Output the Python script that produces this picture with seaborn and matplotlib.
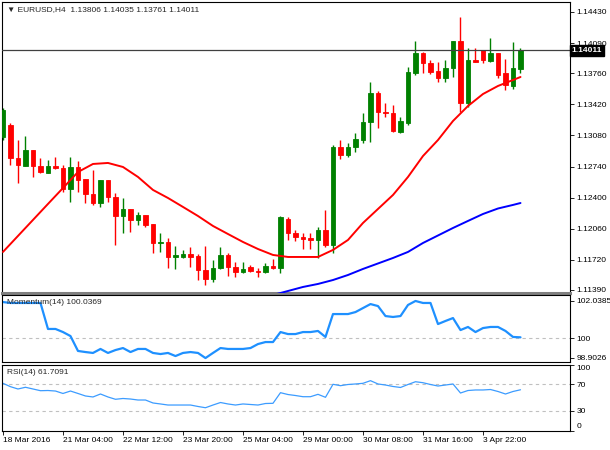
import matplotlib
matplotlib.use("Agg")
import numpy as np
import pandas as pd
import seaborn as sns
import matplotlib.pyplot as plt

# EURUSD H4 candles
opens = [1.13063, 1.13194, 1.12834, 1.12746, 1.12921, 1.12746, 1.12670, 1.12746, 1.12724, 1.12495,
         1.12735, 1.12604, 1.12440, 1.12341, 1.12593, 1.12407, 1.12199, 1.12276, 1.12156, 1.12210,
         1.12112, 1.11904, 1.11915, 1.11751, 1.11751, 1.11784, 1.11762, 1.11609, 1.11510, 1.11631,
         1.11773, 1.11642, 1.11587, 1.11642, 1.11598, 1.11587, 1.11653, 1.11631, 1.12167, 1.12013,
         1.11970, 1.11959, 1.11937, 1.12046, 1.11882, 1.12954, 1.12866, 1.12954, 1.13030, 1.13227,
         1.13544, 1.13337, 1.13326, 1.13118, 1.13216, 1.13763, 1.13982, 1.13872, 1.13785, 1.13708,
         1.13818, 1.14113, 1.13435, 1.13905, 1.14015, 1.13894, 1.13982, 1.13763, 1.13621, 1.13806]
highs = [1.13380, 1.13216, 1.13030, 1.13074, 1.12921, 1.12834, 1.12812, 1.12844, 1.12757, 1.12844,
         1.12801, 1.12604, 1.12702, 1.12593, 1.12593, 1.12451, 1.12396, 1.12276, 1.12243, 1.12210,
         1.12112, 1.12013, 1.11959, 1.11871, 1.11828, 1.11860, 1.11784, 1.11871, 1.11718, 1.11860,
         1.11795, 1.11696, 1.11696, 1.11663, 1.11631, 1.11685, 1.11729, 1.12199, 1.12188, 1.12046,
         1.12013, 1.12013, 1.12079, 1.12265, 1.12976, 1.13030, 1.12998, 1.13107, 1.13326, 1.13665,
         1.13566, 1.13435, 1.13413, 1.13282, 1.13829, 1.14113, 1.13993, 1.13905, 1.13883, 1.13905,
         1.14113, 1.14375, 1.14036, 1.14036, 1.14015, 1.14146, 1.13982, 1.13916, 1.14102, 1.14035]
lows = [1.13030, 1.12757, 1.12560, 1.12746, 1.12626, 1.12670, 1.12670, 1.12713, 1.12462, 1.12352,
        1.12462, 1.12341, 1.12320, 1.12298, 1.12352, 1.11882, 1.12013, 1.12024, 1.12101, 1.12079,
        1.11795, 1.11806, 1.11631, 1.11620, 1.11740, 1.11642, 1.11499, 1.11445, 1.11478, 1.11620,
        1.11543, 1.11532, 1.11576, 1.11587, 1.11532, 1.11576, 1.11620, 1.11576, 1.11937, 1.11926,
        1.11838, 1.11838, 1.11740, 1.11860, 1.11795, 1.12823, 1.12844, 1.12899, 1.12998, 1.13008,
        1.13162, 1.13282, 1.13118, 1.13107, 1.13194, 1.13741, 1.13763, 1.13752, 1.13665, 1.13665,
        1.13719, 1.13337, 1.13391, 1.13883, 1.13872, 1.13883, 1.13708, 1.13577, 1.13588, 1.13761]
closes = [1.13358, 1.12834, 1.12757, 1.12921, 1.12746, 1.12680, 1.12746, 1.12724, 1.12495, 1.12735,
          1.12593, 1.12440, 1.12341, 1.12593, 1.12407, 1.12199, 1.12276, 1.12156, 1.12210, 1.12101,
          1.11904, 1.11915, 1.11751, 1.11773, 1.11784, 1.11751, 1.11609, 1.11510, 1.11631, 1.11773,
          1.11642, 1.11587, 1.11620, 1.11598, 1.11587, 1.11653, 1.11631, 1.12188, 1.12013, 1.11970,
          1.11948, 1.11937, 1.12046, 1.11882, 1.12954, 1.12866, 1.12954, 1.13041, 1.13227, 1.13544,
          1.13337, 1.13326, 1.13129, 1.13238, 1.13774, 1.13982, 1.13872, 1.13774, 1.13708, 1.13818,
          1.14113, 1.13435, 1.13905, 1.13883, 1.13905, 1.13982, 1.13741, 1.13632, 1.13818, 1.14011]

# moving averages (read at every 2nd bar)
ma_fast_idx = list(range(0, 70, 2)) + [69]
ma_fast = [1.11806, 1.11981, 1.12156, 1.12331, 1.12505, 1.12680, 1.12768, 1.12779, 1.12735, 1.12626,
           1.12484, 1.12396, 1.12298, 1.12199, 1.12090, 1.12002, 1.11915, 1.11838, 1.11773, 1.11751,
           1.11751, 1.11751, 1.11828, 1.11937, 1.12123, 1.12276, 1.12429, 1.12626, 1.12855, 1.13030,
           1.13238, 1.13402, 1.13533, 1.13621, 1.13686, 1.13719]
ma_slow_idx = list(range(34, 70, 2)) + [69]
ma_slow = [1.11303, 1.11335, 1.11379, 1.11423, 1.11456, 1.11499, 1.11554, 1.11620, 1.11680, 1.11740,
           1.11806, 1.11904, 1.11986, 1.12068, 1.12145, 1.12221, 1.12281, 1.12320, 1.12341]

momentum = [101.98, 101.93, 101.93, 101.93, 101.93, 101.93, 100.50, 100.50, 100.33, 100.11,
            99.29, 99.23, 99.18, 99.40, 99.18, 99.34, 99.45, 99.23, 99.40, 99.40,
            99.18, 99.12, 99.18, 99.01, 99.18, 99.23, 99.18, 98.90, 99.18, 99.45,
            99.40, 99.40, 99.40, 99.45, 99.67, 99.78, 99.78, 100.33, 100.22, 100.22,
            100.33, 100.33, 100.39, 100.06, 101.32, 101.32, 101.32, 101.43, 101.65, 101.87,
            101.76, 101.21, 101.16, 101.21, 101.82, 102.04, 101.93, 101.93, 100.77, 100.94,
            101.10, 100.44, 100.61, 100.33, 100.55, 100.61, 100.61, 100.39, 100.06, 100.04]
rsi = [71.5, 66.4, 62.9, 65.5, 62.9, 60.3, 60.6, 59.8, 56.1, 59.8,
       56.1, 52.3, 50.8, 55.3, 50.8, 47.3, 48.5, 47.7, 46.2, 46.2,
       41.7, 40.2, 38.6, 38.6, 38.6, 38.6, 36.4, 34.5, 38.6, 42.4,
       40.2, 38.6, 40.2, 39.4, 38.6, 40.9, 41.2, 57.3, 54.5, 53.0,
       51.2, 51.2, 54.8, 50.3, 70.0, 67.9, 69.7, 70.5, 71.5, 75.5,
       70.5, 68.9, 66.7, 65.2, 69.7, 73.9, 72.4, 69.7, 67.4, 68.9,
       70.5, 56.8, 60.6, 61.4, 61.4, 62.1, 59.1, 55.3, 59.1, 61.7]

price_ticks = [1.14430, 1.14090, 1.13760, 1.13420, 1.13080, 1.12740, 1.12400, 1.12060, 1.11720, 1.11390]
date_idx = [0, 8, 16, 24, 32, 40, 48, 56, 64]
date_labels = ["18 Mar 2016", "21 Mar 04:00", "22 Mar 12:00", "23 Mar 20:00", "25 Mar 04:00",
               "29 Mar 00:00", "30 Mar 08:00", "31 Mar 16:00", "3 Apr 22:00"]
last_price = 1.14011

df = pd.DataFrame({"o": opens, "h": highs, "l": lows, "c": closes})
df["i"] = np.arange(len(df))
df["up"] = df["c"] >= df["o"]

sns.set_theme(style="white")
plt.rcParams["font.family"] = ["Liberation Sans", "DejaVu Sans"]
FS = 6.0
UP, DOWN = "#008000", "#ff0000"

W, H = 610, 450
fig = plt.figure(figsize=(W / 100, H / 100), dpi=100)


def box(x0, y0, x1, y1):
    return [x0 / W, 1 - y1 / H, (x1 - x0) / W, (y1 - y0) / H]


ax = fig.add_axes(box(2, 2, 570, 293))
axm = fig.add_axes(box(2, 295, 570, 362))
axr = fig.add_axes(box(2, 364.5, 570, 430.5))

for a in (ax, axm, axr):
    a.set_xlim(-0.13, 75.6)
    for s in a.spines.values():
        s.set_color("black")
        s.set_linewidth(0.8)
    a.yaxis.tick_right()
    a.tick_params(axis="y", direction="out", length=3, width=0.6, pad=1.5,
                  labelsize=FS, colors="black", right=True, left=False)
    a.tick_params(axis="x", bottom=False, labelbottom=False)
ax.spines["bottom"].set_color("#808080")
ax.spines["bottom"].set_linewidth(2.2)

# candles
cols = np.where(df["up"], UP, DOWN)
ax.vlines(df["i"], df["l"], df["h"], colors=cols, lw=1, zorder=2)
body_lo = np.minimum(df["o"], df["c"])
body_h = np.abs(df["c"] - df["o"])
ax.bar(df["i"], body_h, bottom=body_lo, width=0.65, color=cols, edgecolor=cols,
       linewidth=0.6, zorder=3)

sns.lineplot(x=ma_fast_idx, y=ma_fast, ax=ax, color="#ff0000", lw=1.4, zorder=4)
sns.lineplot(x=ma_slow_idx, y=ma_slow, ax=ax, color="#0000ff", lw=1.4, zorder=4)
ax.axhline(last_price, color="#404040", lw=0.9, zorder=5)

ax.set_ylim(1.11357, 1.14539)
ax.set_yticks(price_ticks)
ax.set_yticklabels([f"{p:.5f}" for p in price_ticks])
ax.text(1.003, last_price, f"{last_price:.5f}", transform=ax.get_yaxis_transform(),
        color="white", fontsize=FS, fontweight="bold", va="center", ha="left",
        bbox=dict(facecolor="black", edgecolor="black", pad=1.4), clip_on=False, zorder=10)

# momentum
sns.lineplot(x=df["i"], y=momentum, ax=axm, color="#1e90ff", lw=1.6)
axm.axhline(100, color="#c0c0c0", ls=(0, (3, 3)), lw=0.8, zorder=1)
axm.set_ylim(98.6823, 102.3686)
axm.set_yticks([102.0385, 100, 98.9026])
axm.set_yticklabels(["102.0385", "100", "98.9026"])

# rsi
sns.lineplot(x=df["i"], y=rsi, ax=axr, color="#3c9cff", lw=0.9)
for lvl in (30, 70):
    axr.axhline(lvl, color="#c0c0c0", ls=(0, (3, 3)), lw=0.8, zorder=1)
axr.set_ylim(0, 100)
axr.set_yticks([100, 70, 30, 0])
axr.set_yticklabels(["100", "70", "30", "0"])
ylabs = axr.get_yticklabels()
ylabs[0].set_va("top")
ylabs[3].set_va("bottom")

axr.set_xticks(date_idx)
axr.set_xticklabels(date_labels, ha="left")
axr.tick_params(axis="x", bottom=True, labelbottom=True, direction="out", length=3,
                width=0.6, pad=2, labelsize=FS, colors="black")

for a in (ax, axm, axr):
    a.set_xlabel("")
    a.set_ylabel("")

fig.text(7 / W, 1 - 10 / H, "\u25bc EURUSD,H4  1.13806 1.14035 1.13761 1.14011",
         fontsize=FS, va="center", ha="left")
fig.text(7 / W, 1 - 303 / H, "Momentum(14) 100.0369", fontsize=FS, va="center", ha="left")
fig.text(7 / W, 1 - 373 / H, "RSI(14) 61.7091", fontsize=FS, va="center", ha="left")

fig.savefig("out.png", dpi=100, facecolor="white")
